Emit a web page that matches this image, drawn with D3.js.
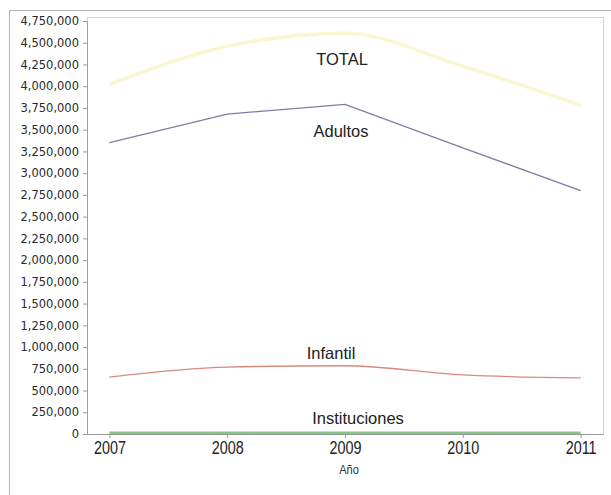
<!DOCTYPE html>
<html>
<head>
<meta charset="utf-8">
<script src="https://cdn.jsdelivr.net/npm/d3@7"></script>
<style>
  body { margin: 0; background: #fff; }
  .y-axis text { font-family: "DejaVu Sans", sans-serif; font-size: 11.5px; fill: #2a2a2a; }
  .x-axis text { font-family: "Liberation Sans", sans-serif; font-size: 18px; fill: #222; }
  .series-label { font-family: "Liberation Sans", Arial, sans-serif; font-size: 16.5px; fill: #222; }
  .axis-title { font-family: "Liberation Sans", sans-serif; font-size: 13px; fill: #333; }
</style>
</head>
<body>
<div class="vis-linechart"></div>
<script>
// values
const years = [2007, 2008, 2009, 2010, 2011];
const total = [4020000, 4460000, 4610000, 4230000, 3780000];
const adultos = [3350000, 3680000, 3790000, 3290000, 2800000];
const infantil = [655000, 770000, 785000, 680000, 645000];
const instituciones = [15000, 15000, 15000, 15000, 15000];
const yTicks = d3.range(0, 4750001, 250000);

const series = [
  { name: "TOTAL", values: total, color: "#f7f0b4", width: 3.5, opacity: 0.6, curve: d3.curveMonotoneX, dx: -3, dy: 32 },
  { name: "Adultos", values: adultos, color: "#8878a6", width: 1.3, opacity: 1, curve: d3.curveLinear, dx: -4, dy: 33 },
  { name: "Infantil", values: infantil, color: "#d98a7c", width: 1.3, opacity: 1, curve: d3.curveMonotoneX, dx: -14, dy: -7 },
  { name: "Instituciones", values: instituciones, color: "#86c686", width: 2.5, opacity: 1, curve: d3.curveLinear, dx: 13, dy: -9 },
];

const W = 611, H = 495;
const margin = { top: 17, right: 8, bottom: 61, left: 87 };
const width = W - margin.left - margin.right;
const height = H - margin.top - margin.bottom;

const svg = d3.select(".vis-linechart")
  .append("svg")
  .attr("width", W)
  .attr("height", H);

// outer frame
svg.append("rect")
  .attr("x", 9.5).attr("y", 10.5)
  .attr("width", W).attr("height", H)
  .attr("fill", "none")
  .attr("stroke", "#b4b4b4");

const g = svg.append("g")
  .attr("transform", "translate(" + margin.left + "," + margin.top + ")");

let x = d3.scalePoint()
  .domain(years)
  .range([0, width])
  .padding(0.19);

let y = d3.scaleLinear()
  .domain([0, 4750000])
  .range([height, 4]);

// plot frame
g.append("rect")
  .attr("x", 0.5).attr("y", 0.5)
  .attr("width", width).attr("height", height)
  .attr("fill", "#fff")
  .attr("stroke", "#d4d4d4");

g.append("g")
  .attr("class", "y-axis")
  .call(d3.axisLeft(y).tickValues(yTicks).tickSize(4).tickPadding(4).tickFormat(d3.format(",")))
  .call(s => s.select(".domain").attr("stroke", "#a89a9a"))
  .call(s => s.selectAll(".tick line").attr("stroke", "#999"));

g.append("g")
  .attr("class", "x-axis")
  .attr("transform", "translate(0," + height + ")")
  .call(d3.axisBottom(x).tickSize(4).tickPadding(3).tickSizeOuter(0))
  .call(s => s.select(".domain").attr("stroke", "#999"))
  .call(s => s.selectAll(".tick line").attr("stroke", "#999"))
  .call(s => s.selectAll(".tick text").attr("transform", "scale(0.8,1)"));

g.append("text")
  .attr("class", "axis-title")
  .attr("transform", "translate(" + (x(2009) + 4) + "," + (height + 40) + ") scale(0.85,1)")
  .style("text-anchor", "middle")
  .text("Año");

series.forEach(s => {
  const line = d3.line()
    .x((d, i) => x(years[i]))
    .y(d => y(d))
    .curve(s.curve);
  g.append("path")
    .datum(s.values)
    .attr("fill", "none")
    .attr("stroke", s.color)
    .attr("stroke-width", s.width)
    .attr("stroke-opacity", s.opacity)
    .attr("d", line);

  const idx = years.indexOf(2009);
  g.append("text")
    .attr("class", "series-label")
    .attr("x", x(2009) + s.dx)
    .attr("y", y(s.values[idx]) + s.dy)
    .style("text-anchor", "middle")
    .text(s.name);
});
</script>
</body>
</html>
